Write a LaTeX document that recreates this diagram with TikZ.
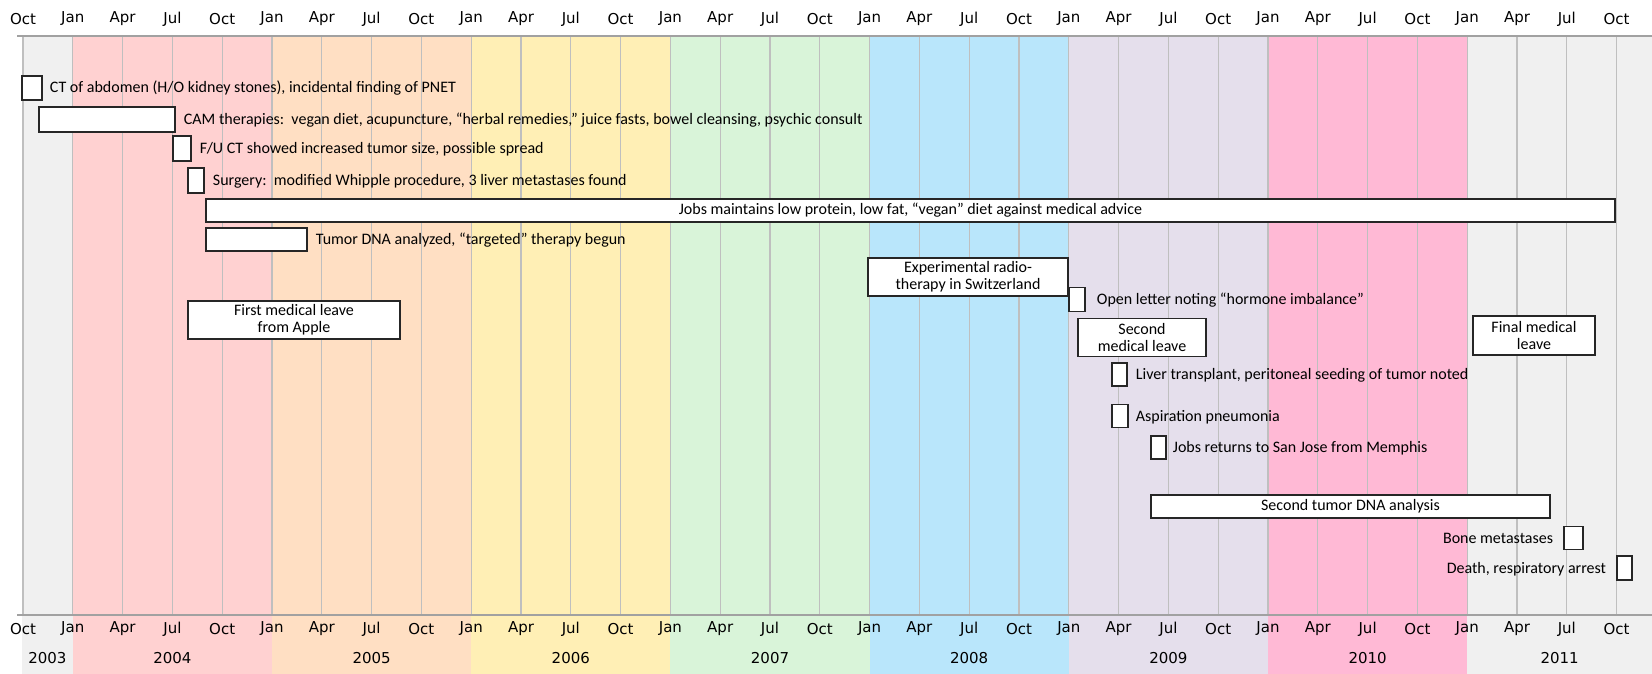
\documentclass[tikz,border=0pt]{standalone}
\usepackage{fontspec}
\setmainfont{Carlito}
\newfontfamily\axisfont{DejaVu Sans}
\usetikzlibrary{positioning}
\definecolor{yr2003}{HTML}{F0F0F0}
\definecolor{yr2004}{HTML}{FFD1D1}
\definecolor{yr2005}{HTML}{FFDFC3}
\definecolor{yr2006}{HTML}{FFEFB5}
\definecolor{yr2007}{HTML}{D9F4D9}
\definecolor{yr2008}{HTML}{B9E6FB}
\definecolor{yr2009}{HTML}{E5DFEC}
\definecolor{yr2010}{HTML}{FFB9D5}
\definecolor{yr2011}{HTML}{F0F0F0}

\begin{document}
\begin{tikzpicture}[x=1pt,y=-1pt,node distance=8pt]
		\tikzstyle{mygrid}=[gray!50,line width=1.2pt]
		\tikzstyle{myaxis}=[black!37,line width=2pt]
		\tikzstyle{mymonth}=[inner sep=0pt,font=\axisfont\fontsize{15}{15}\selectfont]
		\tikzstyle{mybox}=[draw=black!85,line width=1.5pt,fill=white,inner sep=0pt,align=center,font=\fontsize{16}{17}\selectfont]
		\tikzstyle{mylabel}=[inner sep=0pt,text height=13pt,text depth=3pt,font=\fontsize{16}{17}\selectfont]

		\useasboundingbox (0,0) rectangle (1652,674);

		% year bands
		\foreach \y / \a / \b in {2003/22/72.8,2004/72.8/272,2005/272/471.2,2006/471.2/670.4,2007/670.4/869.6,2008/869.6/1068.8,2009/1068.8/1268,2010/1268/1467.2,2011/1467.2/1652} {
			\fill[yr\y] (\a,36) rectangle (\b,674);
			\node[mymonth] (y\y) at ({(\a+\b)/2},658) {\y};
		}

		% quarter lines and month labels
		\foreach \m [count=\q from 0] in {Oct,Jan,Apr,Jul,Oct,Jan,Apr,Jul,Oct,Jan,Apr,Jul,Oct,Jan,Apr,Jul,Oct,Jan,Apr,Jul,Oct,Jan,Apr,Jul,Oct,Jan,Apr,Jul,Oct,Jan,Apr,Jul,Oct} {
			\draw[mygrid] ({23+49.8*\q},36) -- ({23+49.8*\q},615);
			\node[mymonth] (mt\q) at ({23+49.8*\q},19) {\m};
			\node[mymonth] (mb\q) at ({23+49.8*\q},629) {\m};
		}
		\draw[myaxis] (17,36) -- (1652,36);
		\draw[myaxis] (17,615) -- (1652,615);

		% events
		\node[mybox,minimum width=20pt,minimum height=24pt] (ct) at (32,88) {};
		\node[mylabel,right=7pt of ct] (cttext) {CT of abdomen (H/O kidney stones), incidental finding of PNET};

		\node[mybox,minimum width=136pt,minimum height=25pt] (cam) at (107,119.5) {};
		\node[mylabel,right=of cam] (camtext) {CAM therapies:\ \ vegan diet, acupuncture, “herbal remedies,” juice fasts, bowel cleansing, psychic consult};

		\node[mybox,minimum width=18pt,minimum height=25pt] (fuct) at (182,148.5) {};
		\node[mylabel,right=of fuct] (fucttext) {F/U CT showed increased tumor size, possible spread};

		\node[mybox,minimum width=16pt,minimum height=25pt] (surgery) at (196,180.5) {};
		\node[mylabel,right=of surgery] (surgerytext) {Surgery:\ \ modified Whipple procedure, 3 liver metastases found};

		\node[mybox,minimum width=1409pt,minimum height=23pt] (diet) at (910.5,210.5) {Jobs maintains low protein, low fat, “vegan” diet against medical advice};

		\node[mybox,minimum width=101pt,minimum height=23pt] (dna) at (256.5,239.5) {};
		\node[mylabel,right=of dna] (dnatext) {Tumor DNA analyzed, “targeted” therapy begun};

		\node[mybox,minimum width=212pt,minimum height=38pt] (leave1) at (294,320) {First medical leave\\from Apple};

		\node[mybox,minimum width=200pt,minimum height=38pt] (radio) at (968,277) {Experimental radio-\\therapy in Switzerland};

		\node[mybox,minimum width=16pt,minimum height=24pt] (letter) at (1077,299.5) {};
		\node[mylabel,right=11pt of letter] (lettertext) {Open letter noting “hormone imbalance”};

		\node[mybox,minimum width=128pt,minimum height=38pt] (leave2) at (1142,337.5) {Second\\medical leave};

		\node[mybox,minimum width=15pt,minimum height=23pt] (liver) at (1119.5,374.5) {};
		\node[mylabel,right=of liver] (livertext) {Liver transplant, peritoneal seeding of tumor noted};

		\node[mybox,minimum width=16pt,minimum height=23pt] (aspir) at (1120,416) {};
		\node[mylabel,right=7pt of aspir] (aspirtext) {Aspiration pneumonia};

		\node[mybox,minimum width=15pt,minimum height=23pt] (returns) at (1158.5,447.5) {};
		\node[mylabel,right=6pt of returns] (returnstext) {Jobs returns to San Jose from Memphis};

		\node[mybox,minimum width=399pt,minimum height=23pt] (dna2) at (1350.5,506.5) {Second tumor DNA analysis};

		\node[mybox,minimum width=122pt,minimum height=39pt] (leave3) at (1534,335.5) {Final medical\\leave};

		\node[mybox,minimum width=19pt,minimum height=23pt] (bone) at (1573.5,538) {};
		\node[mylabel,left=10pt of bone] (bonetext) {Bone metastases};

		\node[mybox,minimum width=15pt,minimum height=24pt] (death) at (1624.5,568) {};
		\node[mylabel,left=10pt of death] (deathtext) {Death, respiratory arrest};
	\end{tikzpicture}
\end{document}
